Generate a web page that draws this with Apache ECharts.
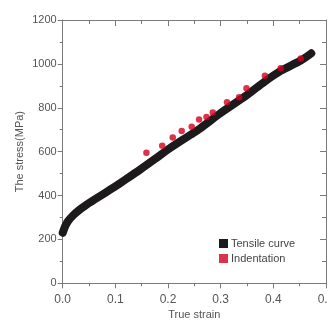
<!DOCTYPE html>
<html>
<head>
<meta charset="utf-8">
<script src="https://cdn.jsdelivr.net/npm/echarts@6/dist/echarts.min.js"></script>
<style>
  html, body { margin: 0; padding: 0; background: #fff; }
  #chart { width: 328px; height: 320px; }
</style>
</head>
<body>
<div id="chart"></div>
<script>
// tensile curve (true strain, stress MPa)
var tensileStrain = [0.0, 0.003, 0.006, 0.01, 0.02, 0.03, 0.04, 0.05, 0.06, 0.08, 0.10, 0.12, 0.147, 0.175, 0.20, 0.242, 0.261, 0.30, 0.35, 0.384, 0.414, 0.452, 0.472];
var tensileStress = [230, 250, 266, 283, 310, 331, 349, 366, 381, 411, 442, 474, 518, 566, 610, 676, 706, 776, 858, 920, 968, 1015, 1048];

// indentation points
var indentStrain = [0.159, 0.189, 0.209, 0.226, 0.245, 0.259, 0.273, 0.285, 0.312, 0.335, 0.349, 0.384, 0.414, 0.452];
var indentStress = [595, 627, 664, 694, 714, 747, 758, 778, 825, 848, 889, 946, 980, 1024];

var xTicks = ['0.0', '0.1', '0.2', '0.3', '0.4', '0.5'];
var yTicks = [0, 200, 400, 600, 800, 1000, 1200];

var font = 'Liberation Sans';
var axisGrey = '#7a7a7a';
var labelGrey = '#555';

function zip(a, b) {
  var out = [];
  for (var i = 0; i < a.length; i++) out.push([a[i], b[i]]);
  return out;
}

var myChart = echarts.init(document.getElementById('chart'));

var option = {
  backgroundColor: '#fff',
  animation: false,
  grid: { left: 62.7, right: 2, top: 20, bottom: 36.7, outerBoundsMode: 'none' },
  legend: {
    orient: 'vertical',
    left: 219,
    top: 238,
    padding: 0,
    icon: 'rect',
    itemWidth: 9,
    itemHeight: 9,
    itemGap: 4,
    textStyle: { fontFamily: font, fontSize: 11, color: '#444', padding: [0, 0, 0, -2] },
    data: ['Tensile curve', 'Indentation']
  },
  xAxis: [
    {
      type: 'value', min: 0, max: 0.5, interval: 0.1,
      position: 'bottom',
      splitLine: { show: false },
      axisLine: { show: true, lineStyle: { color: axisGrey } },
      axisTick: { show: true, length: 5, lineStyle: { color: axisGrey } },
      minorTick: { show: true, splitNumber: 2, length: 3, lineStyle: { color: axisGrey } },
      name: 'True strain',
      nameLocation: 'middle',
      nameGap: 26,
      nameMoveOverlap: false,
      nameTextStyle: { fontFamily: font, fontSize: 11, color: labelGrey },
      axisLabel: {
        margin: 10,
        fontFamily: font,
        fontSize: 12,
        color: labelGrey,
        formatter: function (v) { return xTicks[Math.round(v * 10)]; }
      }
    },
    // 上边框，刻度朝内
    {
      type: 'value', min: 0, max: 0.5, interval: 0.1,
      position: 'top',
      splitLine: { show: false },
      axisLine: { show: true, onZero: false, lineStyle: { color: axisGrey } },
      axisTick: { show: true, inside: true, length: 6, lineStyle: { color: axisGrey } },
      minorTick: { show: true, splitNumber: 2, length: 4, lineStyle: { color: axisGrey } },
      axisLabel: { show: false }
    }
  ],
  yAxis: [
    {
      type: 'value', min: 0, max: 1200, interval: 200,
      position: 'left',
      splitLine: { show: false },
      axisLine: { show: true, lineStyle: { color: axisGrey } },
      axisTick: { show: true, length: 5, lineStyle: { color: axisGrey } },
      minorTick: { show: true, splitNumber: 2, length: 3, lineStyle: { color: axisGrey } },
      name: 'The stress(MPa)',
      nameLocation: 'middle',
      nameGap: 37,
      nameMoveOverlap: false,
      nameTextStyle: { fontFamily: font, fontSize: 11, color: labelGrey },
      axisLabel: {
        margin: 6,
        fontFamily: font,
        fontSize: 11,
        color: labelGrey,
        formatter: function (v) { return yTicks.indexOf(v) >= 0 ? String(v) : ''; }
      }
    },
    // 右边框，刻度朝内
    {
      type: 'value', min: 0, max: 1200, interval: 200,
      position: 'right',
      splitLine: { show: false },
      axisLine: { show: true, onZero: false, lineStyle: { color: axisGrey } },
      axisTick: { show: true, inside: true, length: 6, lineStyle: { color: axisGrey } },
      minorTick: { show: true, splitNumber: 2, length: 4, lineStyle: { color: axisGrey } },
      axisLabel: { show: false }
    }
  ],
  series: [
    {
      name: 'Tensile curve',
      type: 'line',
      xAxisIndex: 0,
      yAxisIndex: 0,
      data: zip(tensileStrain, tensileStress),
      smooth: 0.3,
      showSymbol: false,
      symbol: 'none',
      itemStyle: { color: '#1c1a1a' },
      lineStyle: { color: '#1c1a1a', width: 8, cap: 'round', join: 'round' },
      z: 2
    },
    {
      name: 'Indentation',
      type: 'scatter',
      xAxisIndex: 0,
      yAxisIndex: 0,
      data: zip(indentStrain, indentStress),
      symbol: 'circle',
      symbolSize: 6.5,
      itemStyle: { color: '#d2001e' },
      z: 3
    }
  ]
};

myChart.setOption(option);
</script>
</body>
</html>
